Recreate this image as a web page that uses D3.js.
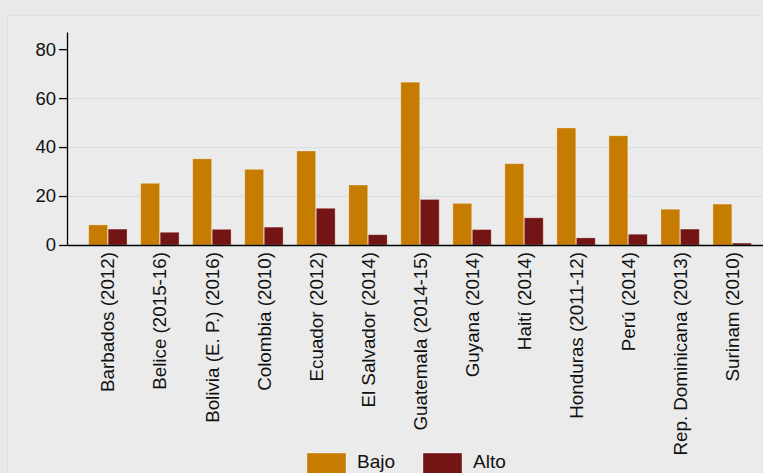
<!DOCTYPE html>
<html>
<head>
<meta charset="utf-8">
<script src="https://cdn.jsdelivr.net/npm/d3@7"></script>
<style>
  body { margin: 0; background: #e9e9e9; overflow: hidden; }
  text { font-family: "Liberation Sans", Arial, sans-serif; fill: #111; }
</style>
</head>
<body>
<script>
var countries = ["Barbados (2012)", "Belice (2015-16)", "Bolivia (E. P.) (2016)", "Colombia (2010)",
  "Ecuador (2012)", "El Salvador (2014)", "Guatemala (2014-15)", "Guyana (2014)", "Haití (2014)",
  "Honduras (2011-12)", "Perú (2014)", "Rep. Dominicana (2013)", "Surinam (2010)"];
var bajo = [8.2, 25.2, 35.2, 30.9, 38.4, 24.5, 66.5, 17.0, 33.2, 47.8, 44.6, 14.6, 16.7];
var alto = [6.5, 5.2, 6.4, 7.3, 15.0, 4.2, 18.6, 6.3, 11.1, 2.9, 4.4, 6.5, 0.8];
var series = ["Bajo", "Alto"];
var colors = ["#c57c00", "#741515"];
var yTicks = [0, 20, 40, 60, 80];

var W = 763, H = 473;
var margin = {top: 32, left: 67, bottom: 228};
var plotRight = 773;
var height = H - margin.top - margin.bottom;

var svg = d3.select("body").append("svg")
    .attr("width", W)
    .attr("height", H);

// panel
svg.append("rect")
    .attr("x", 7.5).attr("y", 15.5)
    .attr("width", W).attr("height", H)
    .attr("fill", "#ebebeb")
    .attr("stroke", "#e0e0e0");

var x0 = d3.scaleBand().domain(countries).range([margin.left, plotRight]).paddingInner(0.263).paddingOuter(0.417);
var x1 = d3.scaleBand().domain(series).range([0, x0.bandwidth()]).paddingInner(0.03);
var y = d3.scaleLinear().domain([0, 87]).range([margin.top + height, margin.top]);

// gridlines
svg.append("g")
  .selectAll("line")
  .data([20, 40, 60])
  .enter().append("line")
    .attr("x1", margin.left).attr("x2", plotRight)
    .attr("y1", function(d) { return y(d) + 0.5; })
    .attr("y2", function(d) { return y(d) + 0.5; })
    .attr("stroke", "#d8dde1")
    .attr("stroke-width", 1);

var data = countries.map(function(c, i) { return {c: c, vals: [bajo[i], alto[i]]}; });

var groups = svg.append("g")
  .selectAll("g")
  .data(data)
  .enter().append("g")
    .attr("transform", function(d) { return "translate(" + x0(d.c) + ",0)"; });

groups.selectAll("rect")
  .data(function(d) { return d.vals.map(function(v, j) { return {s: series[j], v: v, j: j}; }); })
  .enter().append("rect")
    .attr("x", function(d) { return x1(d.s); })
    .attr("y", function(d) { return y(d.v); })
    .attr("width", x1.bandwidth())
    .attr("height", function(d) { return y(0) - y(d.v); })
    .attr("fill", function(d) { return colors[d.j]; })
    .attr("stroke", "rgba(255,255,255,0.35)")
    .attr("stroke-width", 0.8);

// y axis
var yAxis = svg.append("g")
    .attr("transform", "translate(" + margin.left + ",0)")
    .call(d3.axisLeft(y).tickValues(yTicks).tickSize(8).tickPadding(3).tickSizeOuter(0));
yAxis.select(".domain").attr("stroke", "#000").attr("stroke-width", 1.3);
yAxis.selectAll(".tick line").attr("stroke", "#000").attr("stroke-width", 1.3);
yAxis.selectAll("text").style("font-size", "18.5px").attr("fill", "#111");

// x axis
var xAxis = svg.append("g")
    .attr("transform", "translate(0," + y(0) + ")")
    .call(d3.axisBottom(x0).tickSize(0).tickSizeOuter(0));
xAxis.select(".domain").attr("stroke", "#000").attr("stroke-width", 1.6);
xAxis.selectAll("text")
    .style("font-size", "18.8px")
    .attr("fill", "#111")
    .attr("transform", "rotate(-90)")
    .attr("x", -7)
    .attr("y", 0)
    .attr("dy", "0.35em")
    .style("text-anchor", "end");

// legend
var legend = svg.append("g");
var legX = [307, 423];
series.forEach(function(s, i) {
  legend.append("rect")
    .attr("x", legX[i]).attr("y", 453)
    .attr("width", 39).attr("height", 22)
    .attr("fill", colors[i])
    .attr("stroke", "rgba(255,255,255,0.35)");
  legend.append("text")
    .attr("x", legX[i] + 50).attr("y", 468)
    .style("font-size", "19px")
    .text(s);
});
</script>
</body>
</html>
